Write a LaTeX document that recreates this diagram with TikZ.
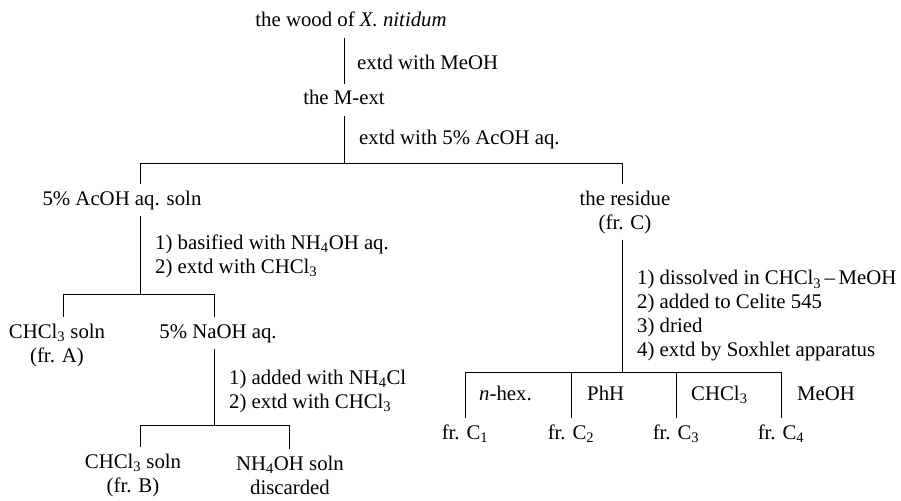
\documentclass[tikz,border=0pt]{standalone}
\usepackage{fontspec}
\setmainfont{Liberation Serif}
\usepackage{tikz}
\usetikzlibrary{calc}
\def\chcl{CHCl\textsubscript{3}}

\begin{document}
\begin{tikzpicture}[x=1pt, y=-1pt,
		txt/.style={font=\fontsize{20.8}{24}\selectfont, inner xsep=0pt, inner ysep=6pt},
		item/.style={txt, text height=15pt, text depth=5pt},
		stack/.style={txt, align=center},
		steps/.style={txt, align=left, anchor=west},
		link/.style={line width=0.9pt}]
			%%%%% START %%%%%
			\useasboundingbox (0, 0) rectangle (901, 500);
			
			\node[item] (wood) at (351, 22) {the wood of \textit{X. nitidum}};
			\node[item] (mext) at (344, 100) {the M-ext};
			\node[item, anchor=west] (meoh) at (357, 65) {extd with MeOH};
			\node[item, anchor=west] (acid) at (359, 139) {extd with 5\% AcOH aq.};
			\draw[link] (mext.north |- wood.south) -- (mext.north);
			
			\coordinate (bar1) at (344, 163);
			\coordinate (bar1L) at (140, 163);
			\coordinate (bar1R) at (622, 163);
			\node[item] (acoh) at (122, 200) {5\% AcOH aq. soln};
			\node[stack] (residue) at (625, 212) {the residue\\(fr. C)};
			\draw[link] (mext.south) -- (bar1);
			\draw[link] (bar1L |- acoh.north) -- (bar1L) -- (bar1R) -- (bar1R |- residue.north);
			
			% left branch
			\node[steps] (basify) at (155, 256) {1) basified with NH\textsubscript{4}OH aq.\\2) extd with \chcl};
			\coordinate (bar2) at (140, 294);
			\coordinate (bar2L) at (63, 294);
			\coordinate (bar2R) at (214, 294);
			\node[stack] (frA) at (57, 345) {\chcl{} soln\\(fr. A)};
			\node[item] (naoh) at (218, 333) {5\% NaOH aq.};
			\draw[link] (bar1L |- acoh.south) -- (bar2);
			\draw[link] (bar2L |- frA.north) -- (bar2L) -- (bar2R) -- (bar2R |- naoh.north);
			
			\node[steps] (nhcl) at (229, 391) {1) added with NH\textsubscript{4}Cl\\2) extd with \chcl};
			\coordinate (bar3) at (214, 425);
			\coordinate (bar3L) at (140, 425);
			\coordinate (bar3R) at (289, 425);
			\node[stack] (frB) at (133, 475) {\chcl{} soln\\(fr. B)};
			\node[stack] (waste) at (290, 475) {NH\textsubscript{4}OH soln\\discarded};
			\draw[link] (bar2R |- naoh.south) -- (bar3);
			\draw[link] (bar3L |- frB.north) -- (bar3L) -- (bar3R) -- (bar3R |- waste.north);
			
			% right branch
			\node[steps] (soxhlet) at (637, 316) {1) dissolved in \chcl\,--\,MeOH\\2) added to Celite 545\\3) dried\\4) extd by Soxhlet apparatus};
			\coordinate (bar4) at (622, 372);
			\coordinate (bar4L) at (465, 372);
			\coordinate (bar4R) at (781, 372);
			\draw[link] (bar1R |- residue.south) -- (bar4);
			
			\node[item] (frC1) at (465, 434) {fr. C\textsubscript{1}};
			\node[item] (frC2) at (571, 434) {fr. C\textsubscript{2}};
			\node[item] (frC3) at (676, 434) {fr. C\textsubscript{3}};
			\node[item] (frC4) at (781, 434) {fr. C\textsubscript{4}};
			\draw[link] (frC1.north) -- (bar4L) -- (bar4R) -- (frC4.north);
			\draw[link] (frC2.north) -- (frC2.north |- bar4);
			\draw[link] (frC3.north) -- (frC3.north |- bar4);
			
			\node[item, anchor=west] (hex) at (479, 395) {\textit{n}-hex.};
			\node[item, anchor=west] (phh) at (587, 395) {PhH};
			\node[item, anchor=west] (chclC) at (691, 395) {\chcl};
			\node[item, anchor=west] (meohC) at (797, 395) {MeOH};
			
			%%%%% END %%%%%
		\end{tikzpicture}
\end{document}
